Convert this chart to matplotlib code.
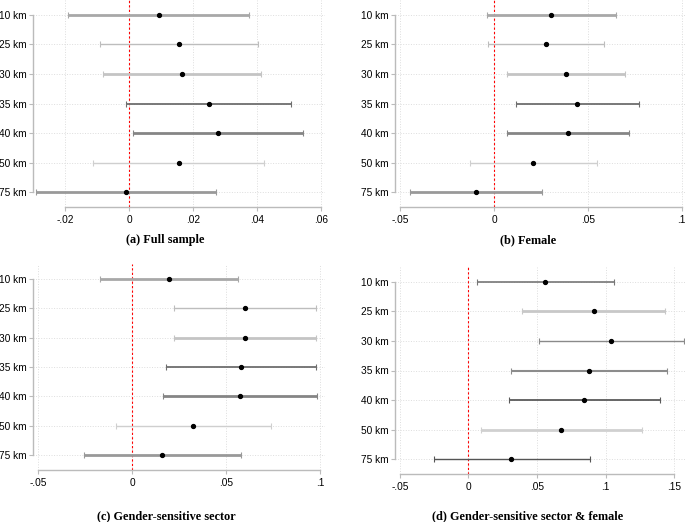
import matplotlib
matplotlib.use("Agg")
import matplotlib.pyplot as plt

labels = ["10 km", "25 km", "30 km", "35 km", "40 km", "50 km", "75 km"]

# point estimates and 95% CI, one list per panel
a_est = [0.0093, 0.0155, 0.0165, 0.0249, 0.0278, 0.0155, -0.0009]
a_lo = [-0.0191, -0.0091, -0.0082, -0.0009, 0.0013, -0.0113, -0.0290]
a_hi = [0.0376, 0.0403, 0.0414, 0.0506, 0.0545, 0.0423, 0.0272]

b_est = [0.0304, 0.0276, 0.0383, 0.0443, 0.0393, 0.0210, -0.0096]
b_lo = [-0.0039, -0.0032, 0.0068, 0.0119, 0.0068, -0.0128, -0.0445]
b_hi = [0.0651, 0.0587, 0.0696, 0.0772, 0.0719, 0.0548, 0.0254]

c_est = [0.0194, 0.0600, 0.0597, 0.0577, 0.0574, 0.0325, 0.0160]
c_lo = [-0.0171, 0.0220, 0.0220, 0.0179, 0.0165, -0.0087, -0.0256]
c_hi = [0.0561, 0.0979, 0.0977, 0.0975, 0.0982, 0.0739, 0.0577]

d_est = [0.0561, 0.0912, 0.1039, 0.0876, 0.0844, 0.0676, 0.0312]
d_lo = [0.0061, 0.0390, 0.0517, 0.0312, 0.0295, 0.0090, -0.0254]
d_hi = [0.1061, 0.1434, 0.1568, 0.1444, 0.1398, 0.1266, 0.0883]

a_ticks = [-0.02, 0, 0.02, 0.04, 0.06]
a_tlab = ["-.02", "0", ".02", ".04", ".06"]
b_ticks = [-0.05, 0, 0.05, 0.1]
b_tlab = ["-.05", "0", ".05", ".1"]
d_ticks = [-0.05, 0, 0.05, 0.1, 0.15]
d_tlab = ["-.05", "0", ".05", ".1", ".15"]

titles = ["(a) Full sample", "(b) Female", "(c) Gender-sensitive sector",
          "(d) Gender-sensitive sector & female"]

# per-row line styles (gray, width)
sty1 = [("#a8a8a8", 2.0), ("#bdbdbd", 1.0), ("#c4c4c4", 2.0), ("#6e6e6e", 1.3),
        ("#858585", 2.0), ("#cfcfcf", 1.0), ("#999999", 2.0)]
sty2 = [("#777777", 1.2), ("#c8c8c8", 2.0), ("#8a8a8a", 1.0), ("#8c8c8c", 1.5),
        ("#5a5a5a", 1.3), ("#d0d0d0", 2.0), ("#555555", 1.0)]

W, H = 685, 522
fig = plt.figure(figsize=(W / 100, H / 100), dpi=100)
plt.rcParams['font.family'] = ['Liberation Sans', 'DejaVu Sans']


def panel(px, est, lo, hi, ticks, tlab, xlim, sty, title, cap):
    l, t, r, b = px
    ax = fig.add_axes([l / W, 1 - b / H, (r - l) / W, (b - t) / H])
    ys = list(range(len(labels)))
    for i in ys:
        col, lw = sty[i]
        ax.errorbar(est[i], i, xerr=[[est[i] - lo[i]], [hi[i] - est[i]]],
                    fmt='o', color='black', ms=2.8, ecolor=col, elinewidth=lw,
                    capsize=2, capthick=0.8, zorder=3)
    ax.axvline(0, color='red', ls=(0, (2, 2)), lw=0.8, zorder=2)
    ax.set_ylim(6.5, -0.5)
    ax.set_xlim(*xlim)
    ax.set_yticks(ys)
    ax.set_yticklabels(labels)
    ax.set_xticks(ticks)
    ax.set_xticklabels(tlab)
    ax.grid(True, ls=':', color='#dddddd', lw=0.7)
    ax.set_axisbelow(True)
    for s in ['top', 'right']:
        ax.spines[s].set_visible(False)
    ax.spines['left'].set_bounds(0, 6)
    ax.spines['bottom'].set_bounds(ticks[0], ticks[-1])
    for s in ['left', 'bottom']:
        ax.spines[s].set_color('#bbbbbb')
        ax.spines[s].set_linewidth(1.0)
    ax.tick_params(axis='both', labelsize=7.3, color='#bbbbbb', length=3, width=0.8, pad=1.5)
    ax.tick_params(axis='x', pad=2.5)
    fig.text(cap[0] / W, 1 - cap[1] / H, title, ha='center', va='center',
             family='Liberation Serif', fontweight='bold', fontsize=8.8)
    return ax


panel((33, 0, 325, 207), a_est, a_lo, a_hi, a_ticks, a_tlab, (-0.030, 0.0613), sty1,
      titles[0], (165, 240))
panel((395, 0, 685, 207), b_est, b_lo, b_hi, b_ticks, b_tlab, (-0.0527, 0.1017), sty1,
      titles[1], (528, 240))
panel((33, 264, 325, 470), c_est, c_lo, c_hi, b_ticks, b_tlab, (-0.0528, 0.1025), sty1,
      titles[2], (166, 516))
panel((395, 267, 685, 474), d_est, d_lo, d_hi, d_ticks, d_tlab, (-0.0535, 0.1578), sty2,
      titles[3], (528, 516))

fig.savefig("out.png", dpi=100)
